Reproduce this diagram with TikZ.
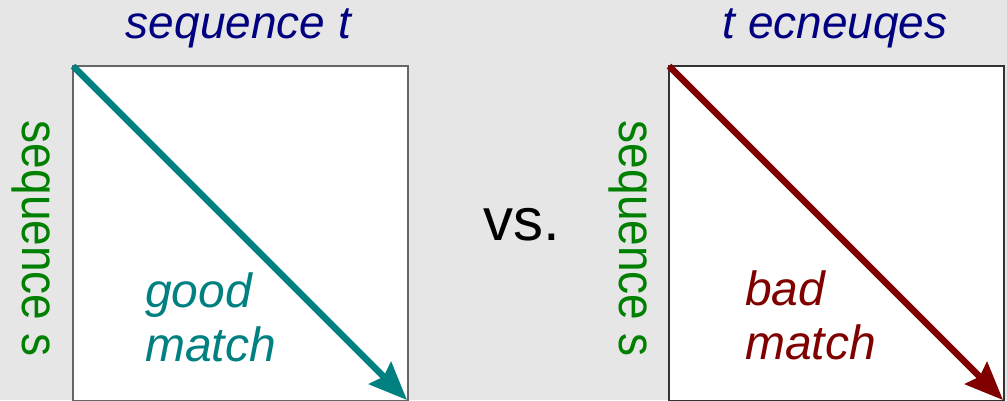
\documentclass[tikz,border=0pt]{standalone}
\usepackage{fontspec}
\setmainfont{Liberation Sans}
\usetikzlibrary{arrows.meta}
\definecolor{bg}{HTML}{E6E6E6}
\definecolor{navy}{HTML}{000080}
\definecolor{seqgreen}{HTML}{008000}
\definecolor{goodteal}{HTML}{008080}
\definecolor{badred}{HTML}{800000}
\newcommand{\tallside}[1]{\scalebox{1}[1.12]{#1}}
\tikzset{
  lbl/.style={inner sep=0pt, font=\fontsize{46}{53}\selectfont},
  title/.style={lbl, navy, font=\fontsize{46}{53}\selectfont\itshape, anchor=base},
  side/.style={lbl, seqgreen, rotate=-90, anchor=base},
  verdict/.style={lbl, font=\fontsize{48}{54}\selectfont\itshape, align=left, anchor=north west},
  matrixbox/.style={draw=#1, line width=1.3pt, fill=white},
  diag/.style={draw=#1, line width=6.5pt, -{Stealth[length=38pt,width=31pt,inset=5pt]}}
}
\begin{document}
\begin{tikzpicture}[x=1pt,y=-1pt]
  % canvas
  \fill[bg] (0,0) rectangle (1007,400);
  \useasboundingbox (0,0) rectangle (1007,400);

  % left panel: sequence s against sequence t
  \draw[matrixbox=black!60] (73,66) rectangle (408,401);
  \coordinate (lstart) at (73,66);
  \coordinate (lend) at (407,400);
  \draw[diag=goodteal] (lstart) -- (lend);
  \node[title] (ltitle) at (238.5,38) {sequence t};
  \node[side] (lside) at (22,238.5) {\tallside{sequence s}};
  \node[verdict, goodteal] (good) at (145,273) {good\\match};

  % middle
  \node[lbl, anchor=base west, font=\fontsize{60}{70}\selectfont] (vs) at (483,240) {vs.};

  % right panel: sequence s against reversed t
  \draw[matrixbox=black!80] (669,66) rectangle (1004,401);
  \coordinate (rstart) at (669,66);
  \coordinate (rend) at (1003,400);
  \draw[diag=badred] (rstart) -- (rend);
  \node[title] (rtitle) at (835,38) {t ecneuqes};
  \node[side] (rside) at (619,238.5) {\tallside{sequence s}};
  \node[verdict, badred] (bad) at (745,271) {bad\\match};
\end{tikzpicture}
\end{document}
